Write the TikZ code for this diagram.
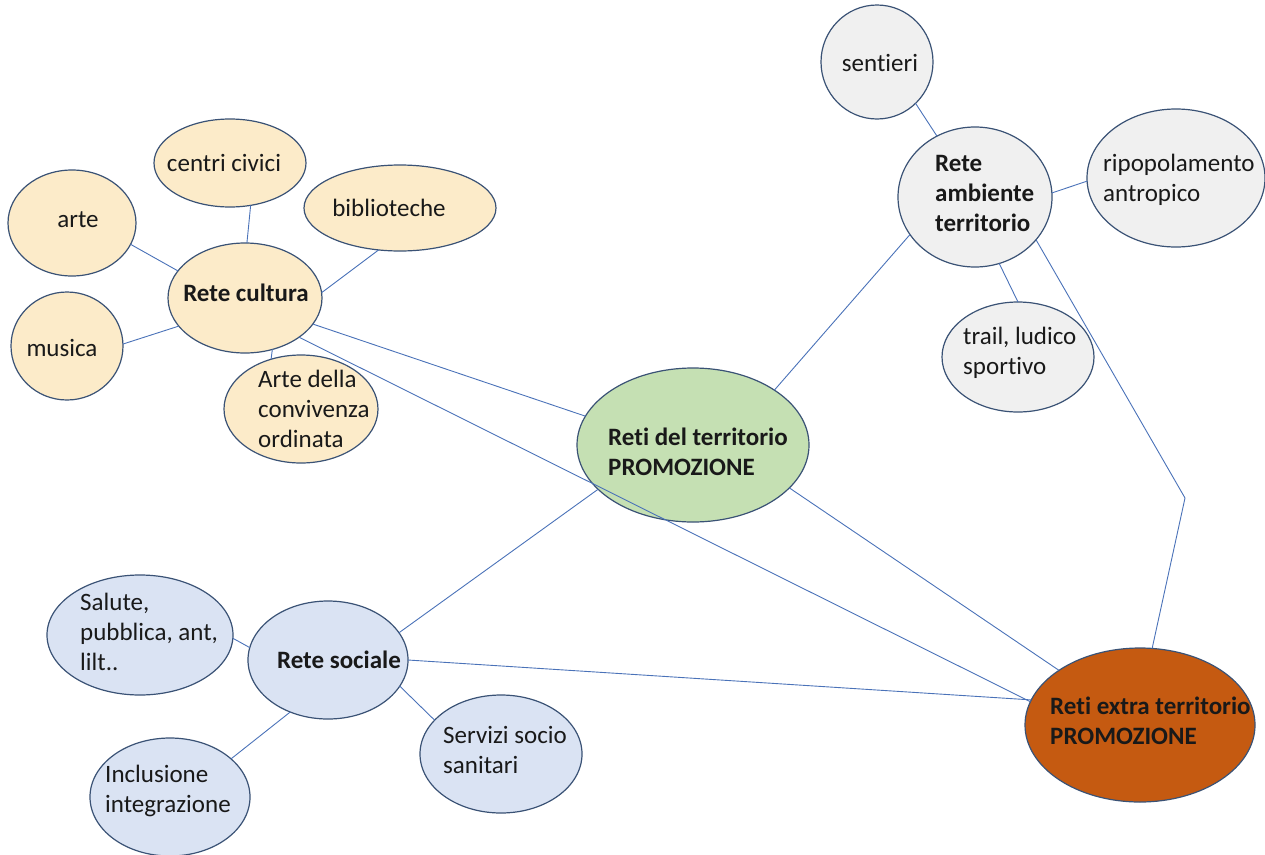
\documentclass[tikz,border=0pt]{standalone}
\usepackage{fontspec}
\setmainfont{Carlito}[Ligatures=NoCommon]
\usetikzlibrary{shapes.geometric}
\definecolor{cultfill}{HTML}{FCEBC9}
\definecolor{grayfill}{HTML}{F0F0F0}
\definecolor{greenfill}{HTML}{C5E0B3}
\definecolor{bluefill}{HTML}{DAE3F3}
\definecolor{orangefill}{HTML}{C55A11}
\definecolor{bordercol}{HTML}{3A5275}
\definecolor{linkcol}{HTML}{4A72B8}
\tikzset{
  ell/.style={ellipse, draw=bordercol, line width=1.2pt, inner sep=0pt, outer sep=0pt},
  cult/.style={ell, fill=cultfill},
  gry/.style={ell, fill=grayfill},
  blu/.style={ell, fill=bluefill},
  txt/.style={font=\fontsize{25}{30}\selectfont, inner sep=0pt, align=left, text=black!90},
  btxt/.style={txt, font=\fontsize{25}{30}\selectfont\bfseries},
  link/.style={draw=linkcol, line width=0.9pt}
}
\begin{document}
\begin{tikzpicture}[x=1pt,y=-1pt]
\useasboundingbox (0,0) rectangle (1265,854);
% cultura group
\node[cult, minimum width=128pt, minimum height=106pt] (arte) at (72,223) {};
\node[cult, minimum width=152pt, minimum height=88pt] (civ) at (230,163) {};
\node[cult, minimum width=192pt, minimum height=86pt] (bib) at (400,208) {};
\node[cult, minimum width=154pt, minimum height=110pt] (cul) at (245,298) {};
\node[cult, minimum width=112pt, minimum height=108pt] (mus) at (67,346) {};
\node[cult, minimum width=154pt, minimum height=108pt] (conv) at (301,409) {};
% ambiente group
\node[gry, minimum width=112pt, minimum height=114pt] (sent) at (877,62) {};
\node[gry, minimum width=154pt, minimum height=140pt] (amb) at (975,197) {};
\node[gry, minimum width=178pt, minimum height=138pt] (rip) at (1176,178) {};
\node[gry, minimum width=152pt, minimum height=110pt] (trail) at (1018,357) {};
% centres
\node[ell, fill=greenfill, minimum width=232pt, minimum height=154pt] (terr) at (693,445) {};
\node[ell, fill=orangefill, minimum width=230pt, minimum height=154pt] (extra) at (1140,725) {};
% sociale group
\node[blu, minimum width=160pt, minimum height=118pt] (soc) at (328,660) {};
\node[blu, minimum width=186pt, minimum height=120pt] (sal) at (140,635) {};
\node[blu, minimum width=160pt, minimum height=118pt] (inc) at (170,797) {};
\node[blu, minimum width=162pt, minimum height=118pt] (serv) at (501,754) {};

% connectors
\draw[link] (arte.-20) -- (cul.158);
\draw[link] (civ.-64.5) -- (cul.88);
\draw[link] (bib.-117) -- (cul.4.4);
\draw[link] (mus.2) -- (cul.-157.6);
\draw[link] (cul.-62.5) -- (conv.121.8);
\draw[link] (cul.-21.4) -- (terr.165);
\draw[link] (cul.-36) -- (extra.168);
\draw[link] (sent.-47) -- (amb.122.9);
\draw[link] (rip.-178.7) -- (amb.3);
\draw[link] (amb.-70.8) -- (trail.90);
\draw[link] (amb.-150.6) -- (terr.34.2);
\coordinate (bend) at (1185,498);
\draw[link] (amb.-35.4) -- (bend) -- (extra.81);
\draw[link] (terr.-24.9) -- (extra.146.2);
\draw[link] (soc.21.3) -- (terr.-155.3);
\draw[link] (soc.0.7) -- (extra.167.9);
\draw[link] (sal.-2) -- (soc.171);
\draw[link] (inc.32.8) -- (soc.-126.7);
\draw[link] (serv.153.8) -- (soc.-20.7);

% texts
\node[txt] (tarte) at (78,220) {arte};
\node[txt] (tciv) at (224,163) {centri civici};
\node[txt] (tbib) at (389,208) {biblioteche};
\node[btxt] (tcul) at (246,293) {Rete cultura};
\node[txt] (tmus) at (62,348) {musica};
\node[txt, anchor=west] (tconv) at (258,409) {Arte della\\convivenza\\ordinata};
\node[txt] (tsent) at (880,63) {sentieri};
\node[btxt, anchor=west] (tamb) at (935,193) {Rete\\ambiente\\territorio};
\node[txt, anchor=west] (trip) at (1103,180) {ripopolamento\\antropico};
\node[txt, anchor=west] (ttrail) at (963,353) {trail, ludico\\sportivo};
\node[btxt, anchor=west] (tterr) at (608,452) {Reti del territorio\\PROMOZIONE};
\node[btxt, anchor=west] (textra) at (1050,721) {Reti extra territorio\\PROMOZIONE};
\node[btxt] (tsoc) at (339,660) {Rete sociale};
\node[txt, anchor=west] (tsal) at (80,632) {Salute,\\pubblica, ant,\\lilt..};
\node[txt, anchor=west] (tinc) at (105,791) {Inclusione\\integrazione};
\node[txt, anchor=west] (tserv) at (443,750) {Servizi socio\\sanitari};
\end{tikzpicture}
\end{document}
